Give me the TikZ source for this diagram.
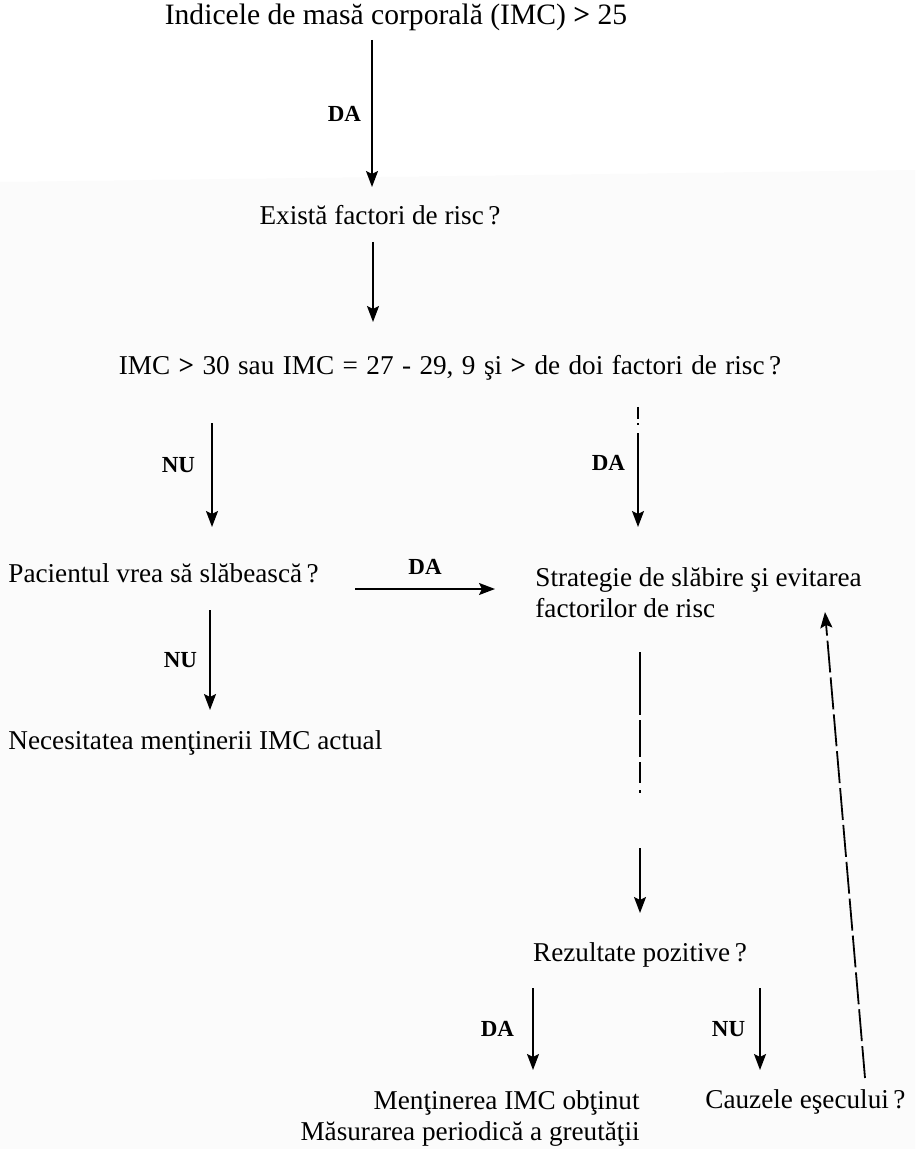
\documentclass[tikz,border=0pt]{standalone}
\usepackage{fontspec}
\setmainfont{Liberation Serif}
\usetikzlibrary{arrows.meta,calc,positioning}

\begin{document}
\begin{tikzpicture}[x=0.5pt,y=-0.5pt,
    txt/.style={font=\fontsize{13.6}{15.5}\selectfont,inner sep=0pt},
    big/.style={font=\fontsize{14.8}{17}\selectfont},
    spaced/.style={execute at begin node={\spaceskip=.31em plus .1em\relax}},
    lbl/.style={font=\fontsize{11.5}{13}\selectfont\bfseries,inner sep=0pt},
    arr/.style={-{Stealth[length=8pt,width=6pt,inset=1.5pt]},line width=0.9pt},
    dsh/.style={arr,dash pattern=on 16pt off 2.5pt}]
    \useasboundingbox (0,0) rectangle (915,1149);
    % faint grey below the first arrow
    \fill[black!1.5] (0,182) -- (915,170) -- (915,1149) -- (0,1149) -- cycle;

    \node[txt,big] (imc25) at (396,17) {Indicele de masă corporală (IMC) \textbf{>} 25};
    \node[txt] (risc) at (380,215) {Există factori de risc\,?};
    \node[txt,spaced] (crit) at (450,368) {IMC \textbf{>} 30 sau IMC = 27 - 29, 9 şi \textbf{>} de doi factori de risc\,?};
    \node[txt,anchor=west] (vrea) at (8,573) {Pacientul vrea să slăbească\,?};
    \node[txt,anchor=west,align=left] (strat) at (535,593) {Strategie de slăbire şi evitarea\\factorilor de risc};
    \node[txt,anchor=west] (ment) at (8,743) {Necesitatea menţinerii IMC actual};
    \node[txt] (rez) at (640,955) {Rezultate pozitive\,?};
    \node[txt,anchor=east,align=right] (obt) at (640,1118) {Menţinerea IMC obţinut\\Măsurarea periodică a greutăţii};
    \node[txt,anchor=west] (cauze) at (705,1102) {Cauzele eşecului\,?};

    \path[arr]
    ($(imc25)+(-24,23)$) edge node[lbl,left=5pt] {DA} ($(risc)+(-8,-28)$)
    ($(risc)+(-7,27)$) edge ($(crit)+(-77,-46)$)
    ($(crit)+(-238,55)$) edge node[lbl,left=8pt,yshift=5pt] {NU} ($(vrea.west)+(204,-46)$)
    ($(vrea.west)+(347,16)$) edge node[lbl,above=7pt] {DA} ($(strat.west)+(-40,-4)$)
    ($(vrea.west)+(202,37)$) edge node[lbl,left=6pt] {NU} ($(ment.west)+(202,-33)$)
    ($(rez)+(-107,33)$) edge node[lbl,left=9pt] {DA} ($(obt.east)+(-107,-48)$)
    ($(rez)+(120,33)$) edge node[lbl,left=7pt] {NU} ($(cauze.west)+(55,-32)$);

    % broken strokes
    \draw[arr,dash pattern=on 6pt off 2pt on 1pt off 4pt on 200pt]
    ($(crit)+(188,39)$) -- node[lbl,left=6pt,yshift=2pt,solid] {DA} ($(strat.west)+(103,-66)$);
    \draw[arr,dash pattern=on 31.5pt off 2.5pt on 18.5pt off 2.5pt on 10.5pt off 3.5pt on 1.5pt off 27.5pt on 100pt]
    ($(strat.west)+(105,59)$) -- ($(rez)+(0,-42)$);
    \draw[dsh] ($(cauze.west)+(160,-24)$) -- ($(strat.west)+(290,19)$);
\end{tikzpicture}
\end{document}
